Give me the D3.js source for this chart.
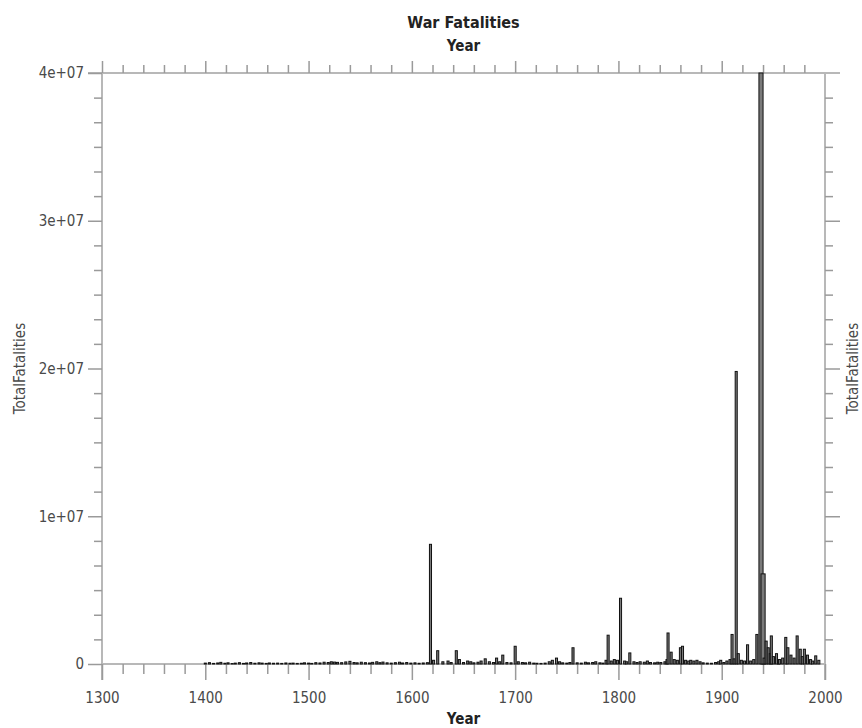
<!DOCTYPE html>
<html>
<head>
<meta charset="utf-8">
<script src="https://cdn.jsdelivr.net/npm/d3@7"></script>
<style>
  html, body { margin: 0; padding: 0; background: #fff; }
  svg { display: block; }
  text { font-family: "Liberation Sans Narrow", "DejaVu Sans Condensed", "Roboto", sans-serif; }
</style>
</head>
<body>
<svg id="chart" width="862" height="728"></svg>
<script>
// Start year of each war and its total fatalities
const warYears = [
  1400, 1404, 1408, 1412, 1415, 1419, 1422, 1426, 1429, 1433, 1437, 1440, 1444, 1448,
  1452, 1455, 1459, 1462, 1466, 1470, 1474, 1478, 1482, 1485, 1489, 1493, 1496, 1500,
  1503, 1507, 1511, 1515, 1519, 1522, 1525, 1528, 1532, 1536, 1540, 1544, 1547, 1551,
  1555, 1559, 1562, 1566, 1569, 1572, 1576, 1580, 1584, 1588, 1591, 1595, 1599, 1603,
  1607, 1611, 1615, 1618, 1621, 1625, 1630, 1635, 1638, 1643, 1646, 1650, 1654, 1657,
  1660, 1664, 1667, 1671, 1675, 1679, 1682, 1685, 1688, 1692, 1696, 1700, 1703, 1707,
  1710, 1714, 1718, 1721, 1725, 1729, 1733, 1736, 1740, 1743, 1746, 1750, 1753, 1756,
  1760, 1764, 1768, 1771, 1775, 1778, 1782, 1785, 1788, 1790, 1793, 1796, 1799, 1802,
  1806, 1808, 1811, 1815, 1818, 1821, 1825, 1828, 1831, 1835, 1838, 1841, 1845, 1847,
  1848, 1851, 1854, 1857, 1860, 1862, 1865, 1868, 1870, 1873, 1876, 1879, 1882, 1886,
  1890, 1894, 1897, 1899, 1902, 1905, 1908, 1910, 1912, 1914, 1916, 1919, 1922, 1925,
  1928, 1931, 1934, 1937, 1939, 1941, 1943, 1945, 1947, 1948, 1950, 1953, 1955, 1956,
  1959, 1962, 1964, 1967, 1970, 1973, 1976, 1978, 1980, 1983, 1986, 1988, 1991, 1994
];
const warFatalities = [
  60000, 90000, 40000, 70000, 110000, 50000, 80000, 30000, 60000, 90000, 40000, 70000, 100000, 50000,
  80000, 60000, 40000, 70000, 50000, 60000, 40000, 70000, 50000, 60000, 40000, 50000, 80000, 60000,
  40000, 90000, 70000, 120000, 100000, 150000, 130000, 110000, 90000, 140000, 180000, 100000, 80000, 120000,
  90000, 70000, 110000, 150000, 90000, 130000, 80000, 60000, 90000, 120000, 70000, 100000, 60000, 80000,
  50000, 70000, 90000, 8100000, 250000, 900000, 150000, 200000, 100000, 900000, 300000, 100000, 200000, 150000,
  80000, 120000, 200000, 350000, 150000, 100000, 400000, 150000, 600000, 100000, 80000, 1200000, 150000, 100000,
  80000, 120000, 60000, 50000, 40000, 60000, 150000, 250000, 400000, 150000, 80000, 60000, 100000, 1100000,
  80000, 60000, 120000, 80000, 100000, 150000, 80000, 60000, 250000, 1950000, 200000, 300000, 250000, 4450000,
  200000, 150000, 750000, 150000, 100000, 150000, 120000, 200000, 100000, 80000, 120000, 100000, 150000, 300000,
  2100000, 800000, 300000, 250000, 1100000, 1200000, 250000, 200000, 250000, 200000, 250000, 150000, 80000, 60000,
  50000, 100000, 150000, 250000, 100000, 200000, 300000, 2000000, 350000, 19800000, 700000, 250000, 200000, 1300000,
  200000, 300000, 2000000, 40000000, 6100000, 400000, 1550000, 1100000, 700000, 1900000, 500000, 700000, 300000, 300000,
  400000, 1800000, 1100000, 600000, 400000, 1900000, 1000000, 500000, 1000000, 600000, 300000, 200000, 550000, 250000
];
// Duration in years of the widest wars (others use the default)
const warSpans = { 1937: 4, 1939: 4 };
const defaultSpan = 2;

const xTickLabels = ["1300", "1400", "1500", "1600", "1700", "1800", "1900", "2000"];
const yTickLabels = ["0", "1e+07", "2e+07", "3e+07", "4e+07"];

const svg = d3.select("#chart");
const M = { left: 102, right: 825, top: 73, bottom: 664 };

const x = d3.scaleLinear().domain([1300, 2000]).range([M.left, M.right]);
const y = d3.scaleLinear().domain([0, 4e7]).range([M.bottom, M.top]);

const axisGrey = "#b8b8b8";
const tickGrey = "#9a9a9a";
const textGrey = "#4a4a4a";

const majorYears = xTickLabels.map(Number);
const minorYears = d3.range(1300, 2001, 20).filter(v => !majorYears.includes(v));
const majorVals = yTickLabels.map(Number);
const minorVals = d3.range(0, 4e7 + 1, 1e7 / 6).filter(v => !majorVals.some(m => Math.abs(m - v) < 1));

// Axis lines
const g = svg.append("g");
g.append("line").attr("x1", M.left).attr("x2", M.right).attr("y1", M.bottom).attr("y2", M.bottom)
  .attr("stroke", axisGrey).attr("stroke-width", 2);
g.append("line").attr("x1", 88).attr("x2", 840).attr("y1", M.top).attr("y2", M.top)
  .attr("stroke", axisGrey).attr("stroke-width", 2);
g.append("line").attr("x1", M.left).attr("x2", M.left).attr("y1", M.top).attr("y2", M.bottom + 16)
  .attr("stroke", axisGrey).attr("stroke-width", 2);
g.append("line").attr("x1", M.right).attr("x2", M.right).attr("y1", M.top).attr("y2", M.bottom + 16)
  .attr("stroke", axisGrey).attr("stroke-width", 2);

// Bottom axis
const bottomMajor = d3.axisBottom(x).tickValues(majorYears).tickSize(16).tickFormat((d, i) => xTickLabels[i]);
const bottomMinor = d3.axisBottom(x).tickValues(minorYears).tickSize(10).tickFormat("");
const bMaj = svg.append("g").attr("transform", `translate(0,${M.bottom})`).call(bottomMajor);
const bMin = svg.append("g").attr("transform", `translate(0,${M.bottom})`).call(bottomMinor);

// Top axis
const topMajor = d3.axisTop(x).tickValues(majorYears.filter(v => v < 2000)).tickSize(12).tickFormat("");
const topMinor = d3.axisTop(x).tickValues(minorYears).tickSize(8).tickFormat("");
const tMaj = svg.append("g").attr("transform", `translate(0,${M.top})`).call(topMajor);
const tMin = svg.append("g").attr("transform", `translate(0,${M.top})`).call(topMinor);

// Left axis
const leftMajor = d3.axisLeft(y).tickValues(majorVals).tickSize(14).tickFormat((d, i) => yTickLabels[i]);
const leftMinor = d3.axisLeft(y).tickValues(minorVals).tickSize(8).tickFormat("");
const lMaj = svg.append("g").attr("transform", `translate(${M.left},0)`).call(leftMajor);
const lMin = svg.append("g").attr("transform", `translate(${M.left},0)`).call(leftMinor);

// Right axis
const rightMajor = d3.axisRight(y).tickValues(majorVals.filter(v => v > 0 && v < 4e7)).tickSize(15).tickFormat("");
const rightMinor = d3.axisRight(y).tickValues(minorVals).tickSize(8).tickFormat("");
const rMaj = svg.append("g").attr("transform", `translate(${M.right},0)`).call(rightMajor);
const rMin = svg.append("g").attr("transform", `translate(${M.right},0)`).call(rightMinor);

[bMaj, bMin, tMaj, tMin, lMaj, lMin, rMaj, rMin].forEach(a => {
  a.select(".domain").remove();
  a.selectAll(".tick line").attr("stroke", tickGrey).attr("stroke-width", 1.5);
  a.selectAll(".tick text").attr("fill", textGrey).attr("font-size", 15)
    .attr("font-family", "'Liberation Sans Narrow', 'DejaVu Sans Condensed', sans-serif");
});
bMaj.selectAll(".tick text").attr("dy", "0.71em").attr("y", 28);
lMaj.selectAll(".tick text").attr("x", -18);

// Bars
const bars = warYears.map((yr, i) => ({ year: yr, value: warFatalities[i], span: warSpans[yr] || defaultSpan }));
svg.append("g").selectAll("rect").data(bars).join("rect")
  .attr("x", d => x(d.year) - 1)
  .attr("width", d => x(d.year + d.span) - x(d.year))
  .attr("y", d => y(d.value))
  .attr("height", d => y(0) - y(d.value))
  .attr("fill", "#7a7a7a")
  .attr("stroke", "#111")
  .attr("stroke-width", 1);

// Titles
svg.append("text").attr("x", (M.left + M.right) / 2).attr("y", 28)
  .attr("text-anchor", "middle").attr("font-size", 16).attr("font-weight", "bold").attr("fill", "#222")
  .text("War Fatalities");
svg.append("text").attr("x", (M.left + M.right) / 2).attr("y", 51)
  .attr("text-anchor", "middle").attr("font-size", 15).attr("font-weight", "bold").attr("fill", "#222")
  .text("Year");
svg.append("text").attr("x", (M.left + M.right) / 2).attr("y", 724)
  .attr("text-anchor", "middle").attr("font-size", 15).attr("font-weight", "bold").attr("fill", "#222")
  .text("Year");
const midY = (M.top + M.bottom) / 2;
svg.append("text").attr("transform", `translate(25,${midY}) rotate(-90)`)
  .attr("text-anchor", "middle").attr("font-size", 15).attr("fill", textGrey)
  .text("TotalFatalities");
svg.append("text").attr("transform", `translate(858,${midY}) rotate(-90)`)
  .attr("text-anchor", "middle").attr("font-size", 15).attr("fill", textGrey)
  .text("TotalFatalities");
</script>
</body>
</html>
